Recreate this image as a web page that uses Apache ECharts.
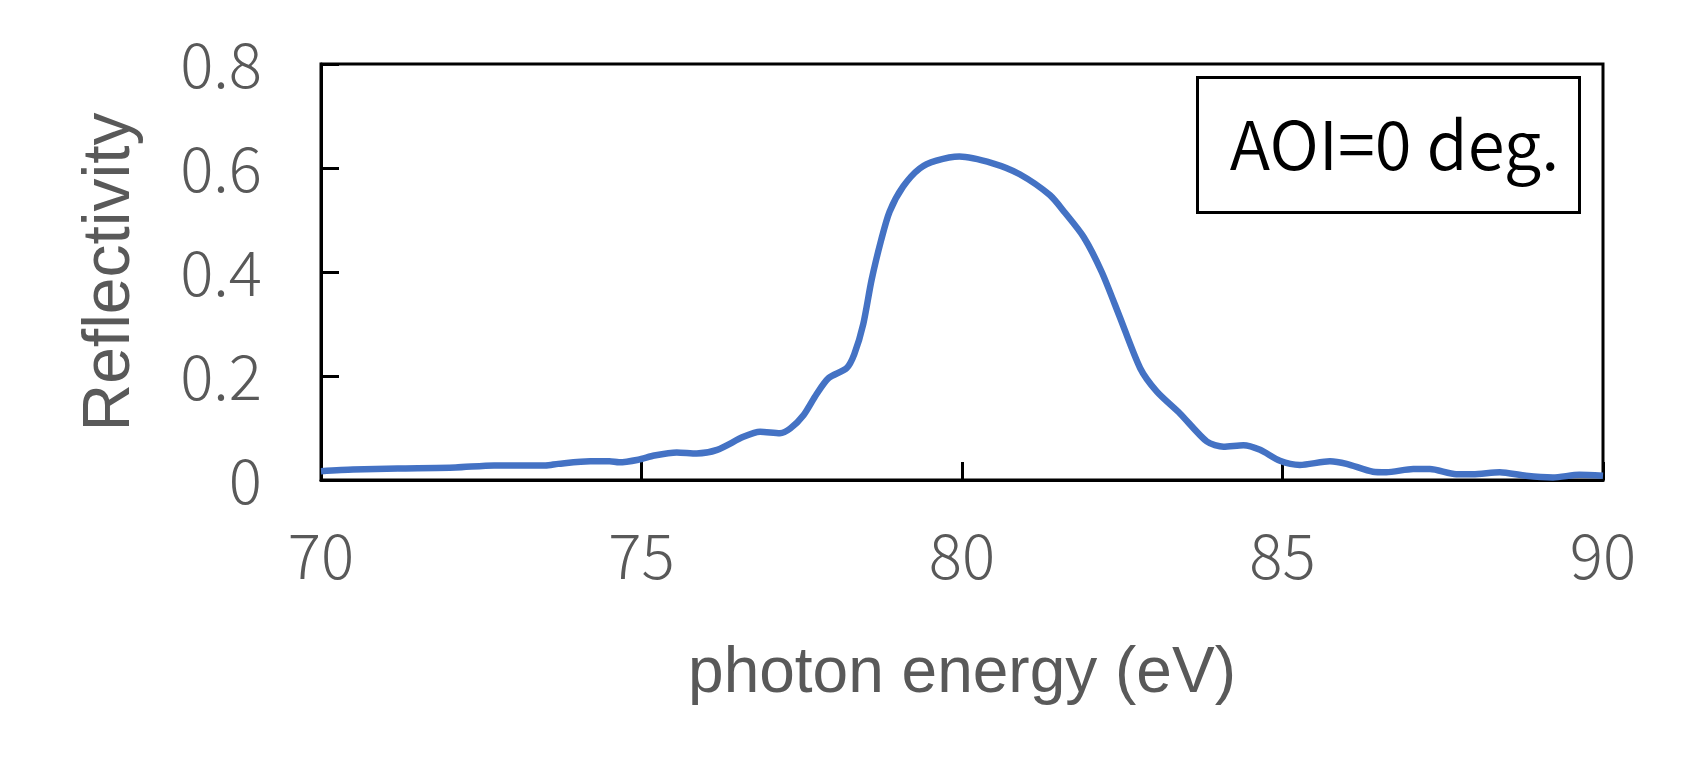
<!DOCTYPE html>
<html>
<head>
<meta charset="utf-8">
<script src="https://cdn.jsdelivr.net/npm/echarts@6/dist/echarts.min.js"></script>
<style>
html,body{margin:0;padding:0;background:#fff;}
#chart{width:1689px;height:780px;}
</style>
</head>
<body>
<div id="chart"></div>
<script>
// photon energy (eV)
const energy = [70.0,70.5,71.2,72.1,72.7,73.5,73.7,74.2,74.5,74.65,74.95,75.2,75.55,75.86,76.18,76.59,76.85,77.16,77.32,77.53,77.73,77.92,78.2,78.32,78.46,78.59,78.74,78.87,79.08,79.34,79.6,79.96,80.48,80.9,81.37,81.6,81.9,82.18,82.46,82.78,83.04,83.4,83.82,84.08,84.39,84.65,84.96,85.27,85.74,86.0,86.41,86.62,87.04,87.3,87.71,87.97,88.39,88.8,89.22,89.63,90.0];
// reflectivity
const reflectivity = [0.017,0.020,0.022,0.024,0.028,0.028,0.031,0.036,0.036,0.034,0.039,0.047,0.053,0.051,0.058,0.083,0.093,0.090,0.099,0.125,0.165,0.196,0.215,0.242,0.300,0.385,0.462,0.516,0.564,0.599,0.614,0.622,0.609,0.588,0.548,0.515,0.467,0.400,0.314,0.215,0.170,0.128,0.074,0.064,0.067,0.058,0.037,0.029,0.036,0.031,0.016,0.015,0.021,0.021,0.011,0.011,0.015,0.008,0.005,0.010,0.008];
const xTitle = 'photon energy (eV)';
const yTitle = 'Reflectivity';
const annotation = 'AOI=0 deg.';

const points = energy.map((e, i) => [e, reflectivity[i]]);

const chart = echarts.init(document.getElementById('chart'), null, {renderer: 'canvas'});
const tickFont = '"Noto Sans CJK JP", "Noto Sans", sans-serif';
const titleFont = '"Liberation Sans", Arial, sans-serif';
chart.setOption({
  animation: false,
  backgroundColor: '#ffffff',
  grid: {
    left: 321, right: 86, top: 64, bottom: 300,
    show: true, borderColor: '#000000', borderWidth: 3, backgroundColor: 'transparent'
  },
  xAxis: {
    type: 'value', min: 70, max: 90, interval: 5,
    name: xTitle, nameLocation: 'middle', nameGap: 162,
    nameTextStyle: {fontFamily: titleFont, fontSize: 64, color: '#595959'},
    axisLine: {show: true, lineStyle: {color: '#000000', width: 3}},
    axisTick: {show: true, inside: true, length: 18, lineStyle: {color: '#000000', width: 3}},
    axisLabel: {margin: 44, fontFamily: tickFont, fontWeight: 300, fontSize: 62, color: '#595959'},
    splitLine: {show: false}
  },
  yAxis: {
    type: 'value', min: 0, max: 0.8, interval: 0.2,
    name: yTitle, nameLocation: 'middle', nameGap: 177,
    nameTextStyle: {fontFamily: titleFont, fontSize: 66, color: '#595959'},
    axisLine: {show: true, lineStyle: {color: '#000000', width: 3}},
    axisTick: {show: true, inside: true, length: 18, lineStyle: {color: '#000000', width: 3}},
    axisLabel: {margin: 59, fontFamily: tickFont, fontWeight: 300, fontSize: 62, color: '#595959'},
    splitLine: {show: false}
  },
  series: [{
    type: 'line',
    data: points,
    smooth: 0.25,
    showSymbol: false,
    lineStyle: {color: '#4472C4', width: 6.5},
    z: 3
  }],
  graphic: [{
    type: 'group',
    right: 108, top: 76,
    z: 10,
    children: [{
      type: 'rect',
      shape: {x: 0, y: 0, width: 382, height: 135},
      style: {fill: '#ffffff', stroke: '#000000', lineWidth: 3}
    }, {
      type: 'text',
      x: 197, y: 67,
      style: {
        text: annotation, fontFamily: tickFont, fontWeight: 350, fontSize: 67, fill: '#000000',
        align: 'center', verticalAlign: 'middle'
      }
    }]
  }]
});
</script>
</body>
</html>
